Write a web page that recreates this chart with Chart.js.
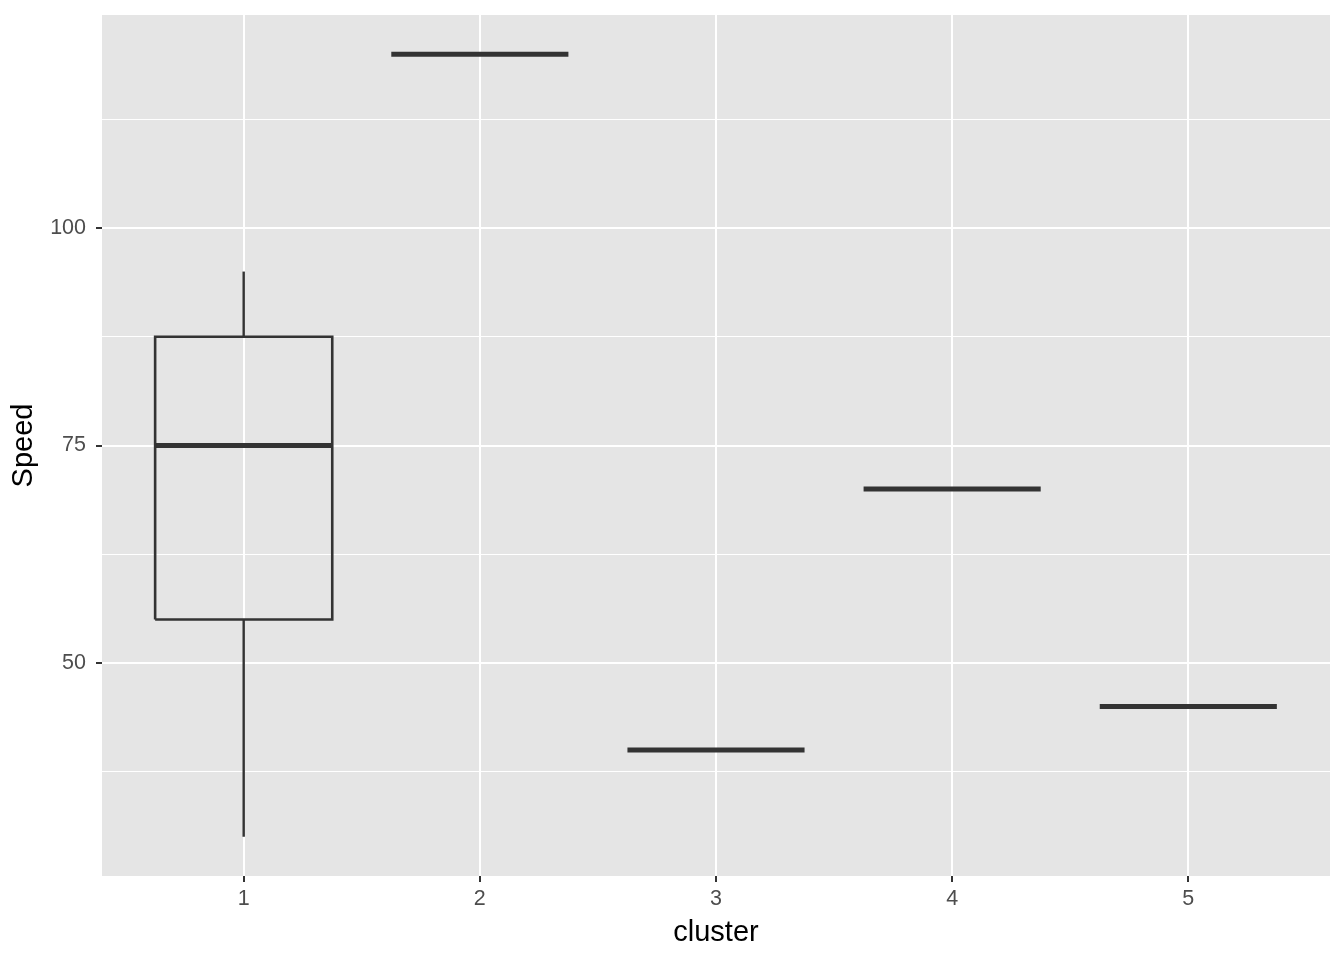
<!DOCTYPE html>
<html>
<head>
    <title>Speed por cluster</title>
    <script src="https://cdn.jsdelivr.net/npm/chart.js"></script>
    <style>
        body { margin: 0; background: #fff; }
        .chart-wrap { width: 1344px; height: 960px; }
    </style>
</head>
<body>
    <div class="chart-wrap">
        <canvas id="chart-box"></canvas>
    </div>

    <script>
        // datos del boxplot
        const clusters = [1, 2, 3, 4, 5];
        const whiskerLow = [30, 120, 40, 70, 45];
        const q1 = [55, 120, 40, 70, 45];
        const median = [75, 120, 40, 70, 45];
        const q3 = [87.5, 120, 40, 70, 45];
        const whiskerHigh = [95, 120, 40, 70, 45];
        const yMajorTicks = [50, 75, 100];
        const yMinorTicks = [37.5, 62.5, 87.5, 112.5];

        const halfWidth = 0.375;
        const lineColor = "#333333";

        const datasets = [];
        clusters.forEach((c, i) => {
            // bigotes
            if (whiskerHigh[i] > q3[i]) {
                datasets.push({ data: [{ x: c, y: q3[i] }, { x: c, y: whiskerHigh[i] }], borderColor: lineColor, borderWidth: 2.4 });
            }
            if (whiskerLow[i] < q1[i]) {
                datasets.push({ data: [{ x: c, y: q1[i] }, { x: c, y: whiskerLow[i] }], borderColor: lineColor, borderWidth: 2.4 });
            }
            // caja
            if (q3[i] > q1[i]) {
                datasets.push({
                    data: [
                        { x: c - halfWidth, y: q1[i] }, { x: c + halfWidth, y: q1[i] },
                        { x: c + halfWidth, y: q3[i] }, { x: c - halfWidth, y: q3[i] },
                        { x: c - halfWidth, y: q1[i] }
                    ],
                    borderColor: lineColor, borderWidth: 2.6,
                    backgroundColor: "#ffffff", fill: true
                });
            }
            // mediana
            datasets.push({
                data: [{ x: c - halfWidth, y: median[i] }, { x: c + halfWidth, y: median[i] }],
                borderColor: lineColor, borderWidth: 5, borderCapStyle: "butt"
            });
        });
        datasets.forEach(d => {
            d.showLine = true;
            d.pointRadius = 0;
            d.pointHoverRadius = 0;
            d.tension = 0;
            if (!d.fill) d.fill = false;
        });

        const panelBg = {
            id: "panelBg",
            beforeDraw(chart) {
                const { ctx, chartArea: a } = chart;
                ctx.save();
                ctx.fillStyle = "#E5E5E5";
                ctx.fillRect(a.left, a.top, a.right - a.left, a.bottom - a.top);
                ctx.restore();
            }
        };

        const esMayor = v => yMajorTicks.includes(v);

        new Chart(document.getElementById("chart-box"), {
            type: "scatter",
            data: { datasets },
            plugins: [panelBg],
            options: {
                responsive: true,
                maintainAspectRatio: false,
                animation: false,
                layout: { padding: { top: 15, right: 14, left: 0, bottom: 0 } },
                plugins: { legend: { display: false }, tooltip: { enabled: false } },
                scales: {
                    x: {
                        type: "linear",
                        min: 0.4,
                        max: 5.6,
                        afterBuildTicks: scale => { scale.ticks = clusters.map(v => ({ value: v })); },
                        afterFit: scale => { scale.height = 84; scale.paddingLeft = 0; scale.paddingRight = 0; },
                        border: { display: false },
                        grid: { color: "#ffffff", lineWidth: 2, tickColor: "#333333", tickLength: 6, tickWidth: 2 },
                        ticks: {
                            color: "#4D4D4D",
                            font: { family: "Liberation Sans", size: 21.5 },
                            padding: 4,
                            callback: v => String(v)
                        },
                        title: {
                            display: true, text: "cluster", color: "#000000",
                            font: { family: "Liberation Sans", size: 29 },
                            padding: { top: 0, bottom: 10 }
                        }
                    },
                    y: {
                        type: "linear",
                        min: 25.5,
                        max: 124.5,
                        afterBuildTicks: scale => {
                            scale.ticks = [...yMinorTicks, ...yMajorTicks].sort((a, b) => a - b).map(v => ({ value: v }));
                        },
                        afterFit: scale => { scale.width = 102; scale.paddingTop = 0; scale.paddingBottom = 0; },
                        border: { display: false },
                        grid: {
                            color: "#ffffff",
                            lineWidth: ctx => esMayor(ctx.tick.value) ? 2 : 1,
                            tickColor: ctx => esMayor(ctx.tick.value) ? "#333333" : "rgba(0,0,0,0)",
                            tickLength: 6,
                            tickWidth: 2
                        },
                        ticks: {
                            color: "#4D4D4D",
                            font: { family: "Liberation Sans", size: 21.5 },
                            padding: 10,
                            callback: v => esMayor(v) ? String(v) : ""
                        },
                        title: {
                            display: true, text: "Speed", color: "#000000",
                            font: { family: "Liberation Sans", size: 29 },
                            padding: { top: 7, bottom: 4 }
                        }
                    }
                }
            }
        });
    </script>
</body>
</html>
